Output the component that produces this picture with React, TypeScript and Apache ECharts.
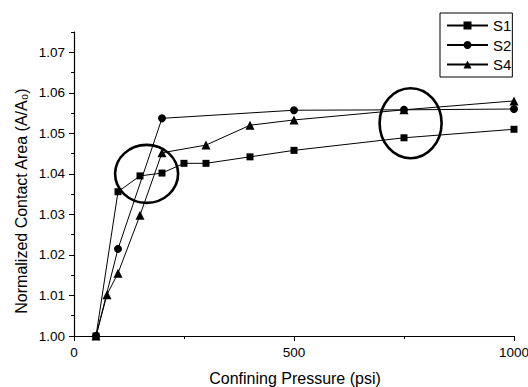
import React, { useEffect, useRef } from "react";
import * as echarts from "echarts";

const pressureS1 = [50, 100, 150, 200, 250, 300, 400, 500, 750, 1000];
const areaS1 = [1.0, 1.0356, 1.0395, 1.0402, 1.0426, 1.0426, 1.0442, 1.0458, 1.0489, 1.051];
const pressureS2 = [50, 100, 200, 500, 750, 1000];
const areaS2 = [1.0, 1.0215, 1.0537, 1.0557, 1.0558, 1.056];
const pressureS4 = [50, 75, 100, 150, 200, 300, 400, 500, 750, 1000];
const areaS4 = [1.0, 1.0102, 1.0155, 1.0298, 1.0452, 1.0471, 1.052, 1.0533, 1.0558, 1.058];
const seriesNames = ["S1", "S2", "S4"];
const seriesSymbols = ["rect", "circle", "triangle"];
const yTicks = [1.0, 1.01, 1.02, 1.03, 1.04, 1.05, 1.06, 1.07];
const yMinorTicks = [1.005, 1.015, 1.025, 1.035, 1.045, 1.055, 1.065, 1.075];
const xTicks = [0, 500, 1000];
const circleCenters: [number, number][] = [
  [165, 1.04],
  [765, 1.0525],
];
const xTitle = "Confining Pressure (psi)";
const yTitle = "Normalized Contact Area (A/A\u2080)";

const FONT = "'Liberation Sans', Arial, Helvetica, sans-serif";

export default function App() {
  const ref = useRef<HTMLDivElement>(null);
  useEffect(() => {
    document.body.style.margin = "0";
    if (!ref.current) return;
    const chart = echarts.init(ref.current, null, { renderer: "svg" });
    const zip = (xs: number[], ys: number[]) => xs.map((x, i) => [x, ys[i]]);
    const datasets = [zip(pressureS1, areaS1), zip(pressureS2, areaS2), zip(pressureS4, areaS4)];
    const sizes = [7, 8, 9];
    chart.setOption({
      animation: false,
      backgroundColor: "#fff",
      textStyle: { fontFamily: FONT, color: "#000" },
      grid: {
        left: 74,
        right: 14,
        top: 32,
        bottom: 51,
        containLabel: false,
        outerBoundsMode: "none",
      },
      legend: {
        data: seriesNames,
        orient: "vertical",
        left: 440,
        top: 13,
        padding: [5, 1, 5, 6],
        itemWidth: 41,
        itemHeight: 10,
        itemGap: 4.5,
        borderColor: "#000",
        borderWidth: 1,
        textStyle: { fontSize: 15, lineHeight: 15, color: "#000", fontFamily: FONT },
      },
      xAxis: [
        {
          type: "value",
          min: 0,
          max: 1000,
          interval: 500,
          axisLine: { show: true, onZero: false, lineStyle: { color: "#000", width: 1.2 } },
          axisTick: { show: true, length: 5, lineStyle: { color: "#000" } },
          minorTick: { show: true, splitNumber: 2, length: 3, lineStyle: { color: "#000" } },
          axisLabel: {
            customValues: xTicks,
            formatter: (v: number) => String(v),
            fontSize: 13.5,
            color: "#000",
            margin: 9,
            fontFamily: FONT,
          },
          splitLine: { show: false },
        },
      ],
      yAxis: [
        {
          type: "value",
          position: "left",
          min: 1.0,
          max: 1.075,
          interval: 0.01,
          axisLine: { show: true, onZero: false, lineStyle: { color: "#000", width: 1.2 } },
          axisTick: { show: true, length: 5, customValues: yTicks, lineStyle: { color: "#000" } },
          axisLabel: {
            customValues: yTicks,
            formatter: (v: number) => v.toFixed(2),
            fontSize: 13.5,
            color: "#000",
            margin: 9,
            fontFamily: FONT,
          },
          splitLine: { show: false },
        },
        {
          type: "value",
          position: "left",
          min: 1.0,
          max: 1.075,
          interval: 0.01,
          axisLine: { show: false },
          axisTick: { show: true, length: 3, customValues: yMinorTicks, lineStyle: { color: "#000" } },
          axisLabel: { show: false },
          splitLine: { show: false },
        },
      ],
      series: seriesNames.map((name, i) => ({
        name,
        type: "line",
        data: datasets[i],
        yAxisIndex: 0,
        symbol: seriesSymbols[i],
        symbolSize: sizes[i],
        showSymbol: true,
        clip: false,
        lineStyle: { color: "#000", width: 1 },
        itemStyle: { color: "#000" },
        z: 3,
      })),
    });

    const ellipseR = [
      [31.5, 29],
      [31, 35],
    ];
    const ellipses = circleCenters.map((c, i) => {
      const p = chart.convertToPixel({ xAxisIndex: 0, yAxisIndex: 0 }, c) as number[];
      return {
        type: "ellipse",
        shape: { cx: p[0], cy: p[1], rx: ellipseR[i][0], ry: ellipseR[i][1] },
        style: { fill: "none", stroke: "#000", lineWidth: 2.6 },
        z: 10,
      };
    });

    chart.setOption({
      graphic: [
        ...ellipses,
        {
          type: "text",
          x: 295,
          y: 378,
          style: {
            text: xTitle,
            fontSize: 16,
            fontFamily: FONT,
            fill: "#000",
            textAlign: "center",
            textVerticalAlign: "middle",
            align: "center",
            verticalAlign: "middle",
          },
        },
        {
          type: "text",
          x: 21,
          y: 201,
          rotation: Math.PI / 2,
          style: {
            text: yTitle,
            fontSize: 16,
            fontFamily: FONT,
            fill: "#000",
            textAlign: "center",
            textVerticalAlign: "middle",
            align: "center",
            verticalAlign: "middle",
          },
        },
      ],
    });

    return () => chart.dispose();
  }, []);
  return <div ref={ref} style={{ width: 528, height: 387 }} />;
}
